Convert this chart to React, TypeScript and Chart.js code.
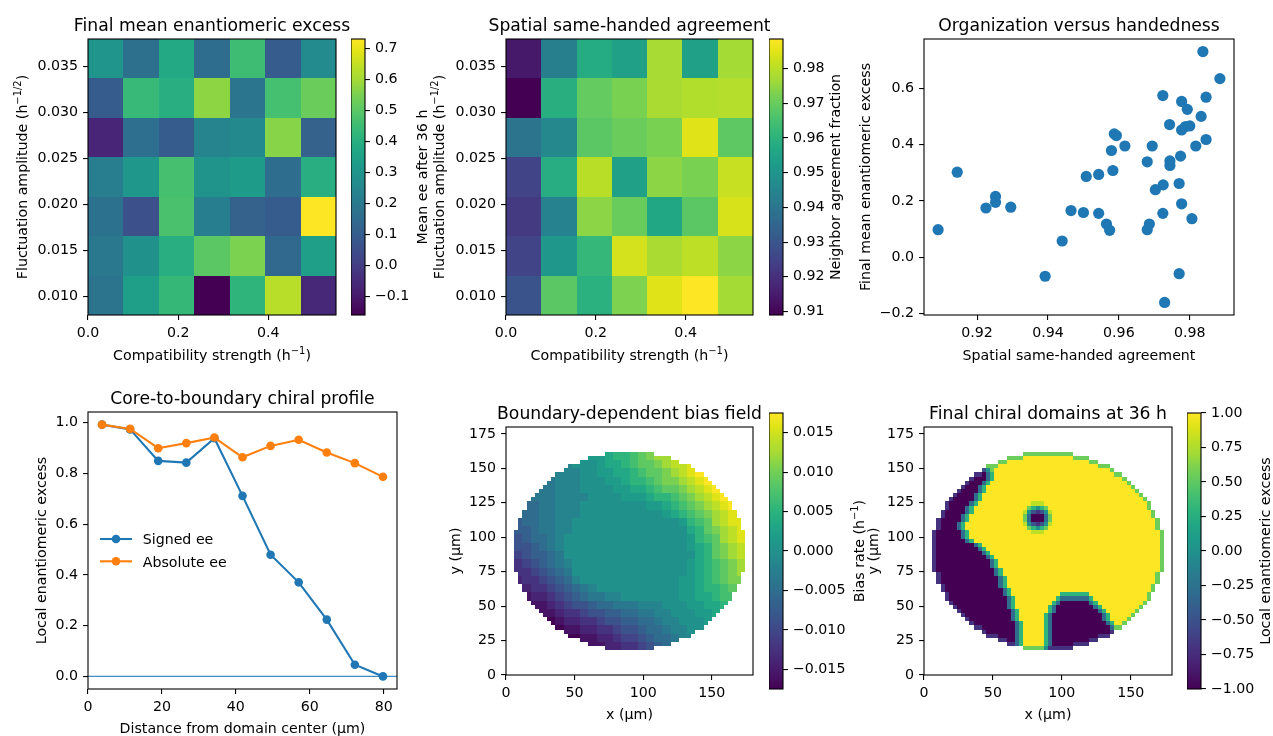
import React, { useEffect, useRef } from "react";
import { Chart, registerables } from "chart.js";

Chart.register(...registerables);

// ======================= DATA =======================
// Heatmap axes (cell centres)
const compatibilityStrength = [0.0393, 0.1179, 0.1964, 0.275, 0.3536, 0.4321, 0.5107];
const fluctuationAmplitude = [0.0359, 0.0316, 0.0273, 0.023, 0.0187, 0.0144, 0.0101]; // top row first

// Final mean enantiomeric excess (rows: top -> bottom)
const finalMeanEE = [
  [0.302, 0.166, 0.379, 0.156, 0.452, 0.096, 0.262],
  [0.098, 0.438, 0.395, 0.574, 0.19, 0.464, 0.525],
  [-0.067, 0.159, 0.098, 0.24, 0.257, 0.568, 0.118],
  [0.216, 0.308, 0.466, 0.294, 0.326, 0.156, 0.395],
  [0.175, 0.058, 0.471, 0.22, 0.118, 0.098, 0.73],
  [0.195, 0.287, 0.395, 0.5, 0.553, 0.137, 0.342],
  [0.178, 0.339, 0.432, -0.16, 0.418, 0.634, -0.058],
];

// Spatial same-handed agreement (rows: top -> bottom)
const neighborAgreement = [
  [0.9144, 0.943, 0.9579, 0.9543, 0.9774, 0.9545, 0.977],
  [0.909, 0.9587, 0.9694, 0.9724, 0.9777, 0.9788, 0.9793],
  [0.9392, 0.946, 0.968, 0.9703, 0.9725, 0.9846, 0.9686],
  [0.9252, 0.9583, 0.98, 0.9543, 0.9744, 0.9724, 0.9817],
  [0.9225, 0.944, 0.9743, 0.97, 0.9565, 0.968, 0.9837],
  [0.9252, 0.9508, 0.9617, 0.9832, 0.9777, 0.9806, 0.9744],
  [0.9295, 0.968, 0.9593, 0.9729, 0.9846, 0.9885, 0.977],
];

// Organization versus handedness scatter
const scatterAgreement = [0.909, 0.9144, 0.9225, 0.9252, 0.9252, 0.9295, 0.9392, 0.944, 0.9465, 0.95, 0.9508, 0.9543, 0.9543, 0.9565, 0.9574, 0.9579, 0.9583, 0.9587, 0.9593, 0.9617, 0.968, 0.968, 0.9686, 0.9694, 0.9703, 0.9724, 0.9725, 0.9724, 0.9729, 0.9743, 0.9744, 0.9744, 0.977, 0.977, 0.9774, 0.9777, 0.9777, 0.9777, 0.9788, 0.9793, 0.98, 0.9806, 0.9817, 0.9832, 0.9837, 0.9846, 0.9846, 0.9885];
const scatterMeanEE = [0.098, 0.302, 0.175, 0.216, 0.195, 0.178, -0.067, 0.058, 0.166, 0.159, 0.287, 0.294, 0.156, 0.118, 0.096, 0.379, 0.308, 0.438, 0.432, 0.395, 0.339, 0.098, 0.118, 0.395, 0.24, 0.574, 0.257, 0.156, -0.16, 0.471, 0.342, 0.326, 0.262, -0.058, 0.359, 0.19, 0.553, 0.452, 0.464, 0.525, 0.466, 0.137, 0.395, 0.5, 0.73, 0.568, 0.418, 0.634];

// Core-to-boundary profile
const profileDistance = [3.8, 11.4, 19.0, 26.6, 34.2, 41.8, 49.4, 57.0, 64.6, 72.2, 79.8];
const signedEE = [0.993, 0.974, 0.85, 0.843, 0.939, 0.712, 0.48, 0.371, 0.224, 0.046, 0.0];
const absoluteEE = [0.993, 0.976, 0.9, 0.92, 0.942, 0.864, 0.909, 0.933, 0.883, 0.841, 0.787];

// Final chiral domains, 60 x 60 cells (top row first), run-length tokens "char*count"
const domainRows = [
  ".*60", ".*60", ".*60", ".*60", ".*60", ".*60",
  ".*24 G*12 .*24",
  ".*20 G*4 Y*12 G*4 .*20",
  ".*18 G*2 Y*20 G*2 .*18",
  ".*15 G*3 Y*24 G*3 .*15",
  ".*14 B T G Y*28 G .*14",
  ".*12 b*2 P t g Y*29 G*2 .*12",
  ".*11 b P*3 t g Y*31 G .*11",
  ".*10 b P*3 t g Y*33 G .*10",
  ".*9 b P*3 t g Y*35 G .*9",
  ".*8 b P*4 t g Y*36 G .*8",
  ".*7 b P*4 t g Y*38 G .*7",
  ".*6 b P*5 t g Y*39 G .*6",
  ".*5 b P*5 t g Y*13 y*3 Y*25 G .*5",
  ".*5 b P*4 t g Y*13 G g T g G Y*24 G .*5",
  ".*4 b P*5 t g Y*12 y T B b B T y Y*24 G .*4",
  ".*4 b P*4 t g Y*13 G t P*3 t G Y*24 G .*4",
  ".*3 b P*5 t g Y*13 G t P*3 t G Y*25 G .*3",
  ".*3 b P*4 t g Y*14 y T B b B T y Y*25 G .*3",
  ".*3 b P*4 t g Y*15 G g T g G Y*26 G .*3",
  ".*2 b P*6 t g Y*15 y*3 Y*28 G .*2",
  ".*2 b P*6 t g Y*46 G .*2",
  ".*2 b P*7 t g Y*45 G .*2",
  ".*2 b P*9 t g Y*43 G .*2",
  ".*2 b P*10 t g Y*42 G .*2",
  ".*2 b P*11 t g Y*41 G .*2",
  ".*2 b P*12 t g Y*40 G .*2",
  ".*2 b P*13 t g Y*39 G .*2",
  ".*2 b P*13 t g Y*39 G .*2",
  ".*2 b P*14 t g Y*38 G .*2",
  ".*3 b P*13 t g Y*37 G .*3",
  ".*3 b P*14 t g Y*36 G .*3",
  ".*3 b P*14 t g Y*36 G .*3",
  ".*4 b P*13 t g Y*35 G .*4",
  ".*4 b P*14 t g Y*34 G .*4",
  ".*5 b P*13 t g Y*12 g*7 Y*14 G .*5",
  ".*5 b P*14 t g Y*10 g t*7 g Y*13 G .*5",
  ".*6 b P*13 t g Y*9 g t P*7 t g Y*11 G .*6",
  ".*7 b P*12 t g Y*8 g t P*9 t g Y*9 G .*7",
  ".*8 b P*12 t g Y*7 g t P*10 t g Y*7 G .*8",
  ".*9 b P*11 t g Y*6 g t P*12 t g Y*5 G .*9",
  ".*10 b P*10 t g Y*6 g t P*12 t g Y*4 G .*10",
  ".*11 b P*10 t g Y*5 g t P*13 t g Y*2 G .*11",
  ".*12 b*2 P*8 t g Y*5 g t P*14 t G*2 .*12",
  ".*14 b P*7 t g Y*5 g t P*14 b .*14",
  ".*15 b*3 P*4 t g Y*5 g t P*11 b*3 .*15",
  ".*18 b*2 P*2 t g Y*5 g t P*9 b*2 .*18",
  ".*20 b*2 t g Y*5 g t P*5 b*4 .*20",
  ".*24 G*5 T b*6 .*24",
  ".*60", ".*60", ".*60", ".*60", ".*60", ".*60",
];
const domainLevel: Record<string, number> = { Y: 1, y: 0.8, G: 0.55, g: 0.3, T: 0, t: -0.3, B: -0.5, b: -0.7, P: -1 };

// Boundary-dependent bias field, 30 x 30 samples (top row first), level chars
const biasRows = [
  ".*30", ".*30", ".*30",
  ".*10 B B C D D E F G H H .*10",
  ".*7 9 A A A B C C D E F F G H I I J .*7",
  ".*6 9 9 9 A A B B C C D E F F G H I J K .*6",
  ".*5 8 9 9 9 A A A B B C D D E F G G H I J K .*5",
  ".*4 8 8 9 9 9 A*4 B B C C D E F F G H I J K .*4",
  ".*3 8 8 8 9 9 9 9 A*4 B B B C D D E F G H I J K .*3",
  ".*2 7 7 8 8 9 9 9 A*8 B B C D E F G H I J K .*2",
  ".*2 7 7 8 8 9 9 9 A*10 B C D E F G H I J .*2",
  ".*1 6 7 7 8 8 9 9 A*13 B D E F H I J J .*1",
  ".*1 6 6 7 8 8 9 9 A*14 C D F G H I J .*1",
  ".*1 5 6 7 7 8 9 A*15 B D E F H I J .*1",
  ".*1 5 5 6 7 8 9 A*15 B C D F G H I .*1",
  ".*1 4 5 6 6 7 8 A*16 C D F G H I .*1",
  ".*1 3 4 5 6 7 8 9 A*14 B C D E F G H .*1",
  ".*1 3 3 4 5 6 7 8 A*14 B C D E F G H .*1",
  ".*1 2 3 3 4 5 6 7 9 A*12 B B C D E F G G .*1",
  ".*2 2 3 3 4 5 6 7 8 9 A*10 B B C D D E F .*2",
  ".*2 1 2 2 3 4 5 6 7 8 8 9 9 A*7 B B C C D E E .*2",
  ".*3 1 1 2 3 4 5 5 6 7 7 8 8 8 9 9 9 A A A B B C C D .*3",
  ".*4 1 1 2 3 3 4 5 5 6 6 7 7 8 8 9 9 A A A B B C .*4",
  ".*5 0 1 2 2 3 3 4 5 5 6 6 7 7 8 9 9 A A A B .*5",
  ".*6 0 1 1 2 2 3 3 4 5 5 6 7 7 8 9 9 A A .*6",
  ".*7 0 0 1 1 2 2 3 4 4 5 6 7 7 8 9 9 .*7",
  ".*10 1 1 2 2 3 3 4 5 6 7 .*10",
  ".*30", ".*30", ".*30",
];
const biasLevelChars = "0123456789ABCDEFGHIJK";
const biasLevelStep = 0.00175; // 'A' is zero
const imageExtent = 180;

// Tick values
const heatXTicks = [0, 0.2, 0.4];
const heatYTicks = [0.01, 0.015, 0.02, 0.025, 0.03, 0.035];
const eeBarTicks = [-0.1, 0, 0.1, 0.2, 0.3, 0.4, 0.5, 0.6, 0.7];
const agreementBarTicks = [0.91, 0.92, 0.93, 0.94, 0.95, 0.96, 0.97, 0.98];
const scatterXTicks = [0.92, 0.94, 0.96, 0.98];
const scatterYTicks = [-0.2, 0, 0.2, 0.4, 0.6];
const profileXTicks = [0, 20, 40, 60, 80];
const profileYTicks = [0, 0.2, 0.4, 0.6, 0.8, 1.0];
const imageXTicks = [0, 50, 100, 150];
const imageYTicks = [0, 25, 50, 75, 100, 125, 150, 175];
const biasBarTicks = [-0.015, -0.01, -0.005, 0, 0.005, 0.01, 0.015];
const domainBarTicks = [-1, -0.75, -0.5, -0.25, 0, 0.25, 0.5, 0.75, 1];

// ======================= STYLE / HELPERS =======================
const FONT = '"DejaVu Sans", "Liberation Sans", sans-serif';
const FS = 14.2;
const TFS = 17.2;
const TICK = 4.9;
const LW = 1.1;
const C0 = "#1f77b4";
const C1 = "#ff7f0e";
const HALF_PI = Math.PI / 2;

const VIR = ["#440154", "#471365", "#482475", "#46337f", "#414487", "#3b528b", "#355f8d", "#2f6c8e", "#2a788e", "#25848e", "#21918c", "#1e9c89", "#22a884", "#2fb47c", "#44bf70", "#5ec962", "#7ad151", "#a2da37", "#bddf26", "#dfe318", "#fde725"];
const VIR_RGB = VIR.map((h) => [1, 3, 5].map((k) => parseInt(h.slice(k, k + 2), 16)));
function viridis(t: number) {
  const n = VIR_RGB.length - 1;
  const tt = Math.max(0, Math.min(1, t)) * n;
  const i = Math.min(n - 1, Math.floor(tt));
  const u = tt - i;
  const a = VIR_RGB[i];
  const b = VIR_RGB[i + 1];
  const c = [0, 1, 2].map((k) => Math.round(a[k] + (b[k] - a[k]) * u));
  return `rgb(${c[0]},${c[1]},${c[2]})`;
}

function fmt(v: number, d: number) {
  const s = Math.abs(v).toFixed(d);
  return (v < -1e-12 ? "\u2212" : "") + s;
}

function decode(rows: string[]): string[][] {
  return rows.map((r) => {
    const out: string[] = [];
    r.split(" ").forEach((tok) => {
      if (!tok) return;
      const [ch, cnt] = tok.split("*");
      const n = cnt ? parseInt(cnt, 10) : 1;
      for (let k = 0; k < n; k++) out.push(ch);
    });
    return out;
  });
}

type Part = { t: string; sup?: boolean };
type Txt = { parts: Part[]; x: number; y: number; rot?: number; size?: number; align?: "center" | "left" };
type Box = { l: number; t: number; r: number; b: number };
type Pad = { l: number; t: number; r: number; b: number };
type Frame = { x: number; y: number; w: number; h: number };

const P = (s: string): Part[] => [{ t: s }];
const withSup = (a: string, s: string, b: string): Part[] => [{ t: a }, { t: s, sup: true }, { t: b }];

function drawText(ctx: CanvasRenderingContext2D, l: Txt, ox: number, oy: number) {
  const size = l.size || FS;
  const sup = size * 0.7;
  ctx.save();
  ctx.translate(l.x - ox, l.y - oy);
  if (l.rot) ctx.rotate(l.rot);
  ctx.fillStyle = "#000";
  ctx.textBaseline = "alphabetic";
  ctx.textAlign = "left";
  const ws = l.parts.map((p) => {
    ctx.font = `${p.sup ? sup : size}px ${FONT}`;
    return ctx.measureText(p.t).width;
  });
  const total = ws.reduce((s, w) => s + w, 0);
  let x = l.align === "left" ? 0 : -total / 2;
  l.parts.forEach((p, i) => {
    ctx.font = `${p.sup ? sup : size}px ${FONT}`;
    ctx.fillText(p.t, x, p.sup ? -size * 0.42 : 0);
    x += ws[i];
  });
  ctx.restore();
}

function frameOf(box: Box, pad: Pad): Frame {
  return { x: box.l - pad.l, y: box.t - pad.t, w: box.r - box.l + pad.l + pad.r, h: box.b - box.t + pad.t + pad.b };
}

function axis(pos: string, min: number, max: number, ticks: number[], dec: number, size: number) {
  return {
    type: "linear",
    position: pos,
    min,
    max,
    afterBuildTicks: (s: any) => {
      s.ticks = ticks.map((v) => ({ value: v }));
    },
    afterFit: (s: any) => {
      if (pos === "bottom") s.height = size;
      else s.width = size;
    },
    border: { display: false },
    grid: { display: true, drawOnChartArea: false, drawTicks: true, tickLength: TICK, tickColor: "#000", tickWidth: LW, color: "#000", lineWidth: LW },
    ticks: {
      autoSkip: false,
      maxRotation: 0,
      minRotation: 0,
      padding: 5,
      color: "#000",
      font: { family: FONT, size: FS },
      callback: (v: any) => fmt(Number(v), dec),
    },
  };
}

function baseOptions(padding: any) {
  return {
    responsive: false,
    animation: false,
    devicePixelRatio: 1,
    events: [],
    layout: { padding },
    plugins: { legend: { display: false }, tooltip: { enabled: false }, title: { display: false } },
  };
}

type Panel = { frame: Frame; config: any };

function mainPanel(opts: {
  box: Box;
  pad: Pad;
  datasets: any[];
  x: [number, number, number[], number];
  y: [number, number, number[], number];
  under?: (chart: any) => void;
  over?: (chart: any, frame: Frame) => void;
  labels: Txt[];
}): Panel {
  const { box, pad } = opts;
  const frame = frameOf(box, pad);
  const plugin = {
    id: "decor",
    beforeDatasetsDraw(chart: any) {
      if (!opts.under) return;
      const { ctx, chartArea: a } = chart;
      ctx.save();
      ctx.beginPath();
      ctx.rect(a.left, a.top, a.right - a.left, a.bottom - a.top);
      ctx.clip();
      opts.under(chart);
      ctx.restore();
    },
    afterDraw(chart: any) {
      const { ctx, chartArea: a } = chart;
      if (opts.over) opts.over(chart, frame);
      ctx.save();
      ctx.strokeStyle = "#000";
      ctx.lineWidth = LW;
      ctx.strokeRect(a.left, a.top, a.right - a.left, a.bottom - a.top);
      ctx.restore();
      opts.labels.forEach((l) => drawText(ctx, l, frame.x, frame.y));
    },
  };
  const config = {
    type: "scatter",
    data: { datasets: opts.datasets },
    options: {
      ...baseOptions({ left: 0, top: pad.t, right: pad.r, bottom: 0 }),
      scales: {
        x: axis("bottom", opts.x[0], opts.x[1], opts.x[2], opts.x[3], pad.b),
        y: axis("left", opts.y[0], opts.y[1], opts.y[2], opts.y[3], pad.l),
      },
    },
    plugins: [plugin],
  };
  return { frame, config };
}

function colorbarPanel(box: Box, vmin: number, vmax: number, ticks: number[], dec: number, label: Txt): Panel {
  const pad = { l: 0, t: 20, r: 88, b: 20 };
  const frame = frameOf(box, pad);
  const plugin = {
    id: "cbar",
    beforeDatasetsDraw(chart: any) {
      const { ctx, chartArea: a } = chart;
      const ys = chart.scales.y;
      for (let py = Math.floor(a.top); py < Math.ceil(a.bottom); py++) {
        const v = ys.getValueForPixel(py + 0.5);
        ctx.fillStyle = viridis((v - vmin) / (vmax - vmin));
        ctx.fillRect(a.left, py, a.right - a.left, 1);
      }
    },
    afterDraw(chart: any) {
      const { ctx, chartArea: a } = chart;
      ctx.save();
      ctx.strokeStyle = "#000";
      ctx.lineWidth = LW;
      ctx.strokeRect(a.left, a.top, a.right - a.left, a.bottom - a.top);
      ctx.restore();
      drawText(ctx, label, frame.x, frame.y);
    },
  };
  const config = {
    type: "scatter",
    data: { datasets: [{ data: [] }] },
    options: {
      ...baseOptions({ left: 0, top: pad.t, right: 0, bottom: pad.b }),
      scales: {
        x: { type: "linear", display: false, min: 0, max: 1 },
        y: axis("right", vmin, vmax, ticks, dec, pad.r),
      },
    },
    plugins: [plugin],
  };
  return { frame, config };
}

function heatUnder(grid: number[][], xs: number[], ys: number[], vmin: number, vmax: number) {
  return (chart: any) => {
    const { ctx } = chart;
    const sx = chart.scales.x;
    const sy = chart.scales.y;
    const hx = Math.abs(xs[1] - xs[0]) / 2;
    const hy = Math.abs(ys[0] - ys[1]) / 2;
    grid.forEach((row, r) =>
      row.forEach((v, c) => {
        const x0 = Math.round(sx.getPixelForValue(xs[c] - hx));
        const x1 = Math.round(sx.getPixelForValue(xs[c] + hx));
        const y0 = Math.round(sy.getPixelForValue(ys[r] + hy));
        const y1 = Math.round(sy.getPixelForValue(ys[r] - hy));
        ctx.fillStyle = viridis((v - vmin) / (vmax - vmin));
        ctx.fillRect(x0, y0, x1 - x0, y1 - y0);
      })
    );
  };
}

function imageUnder(cells: (number | null)[][], vmin: number, vmax: number) {
  return (chart: any) => {
    const { ctx } = chart;
    const sx = chart.scales.x;
    const sy = chart.scales.y;
    const n = cells.length;
    const m = cells[0].length;
    const dx = imageExtent / m;
    const dy = imageExtent / n;
    cells.forEach((row, k) =>
      row.forEach((v, i) => {
        if (v === null || v === undefined) return;
        const yTop = imageExtent - k * dy;
        const x0 = Math.round(sx.getPixelForValue(i * dx));
        const x1 = Math.round(sx.getPixelForValue((i + 1) * dx));
        const y0 = Math.round(sy.getPixelForValue(yTop));
        const y1 = Math.round(sy.getPixelForValue(yTop - dy));
        ctx.fillStyle = viridis((v - vmin) / (vmax - vmin));
        ctx.fillRect(x0, y0, x1 - x0, y1 - y0);
      })
    );
  };
}

function limits(vals: number[], margin = 0.05): [number, number] {
  const lo = Math.min(...vals);
  const hi = Math.max(...vals);
  const m = (hi - lo) * margin;
  return [lo - m, hi + m];
}

// ======================= LAYOUT =======================
function buildPanels(): Panel[] {
  const panels: Panel[] = [];
  const mainPad = { l: 90, t: 40, r: 20, b: 60 };

  // ----- heatmap 1 -----
  const eeFlat = finalMeanEE.flat();
  const eeMin = Math.min(...eeFlat);
  const eeMax = Math.max(...eeFlat);
  panels.push(
    mainPanel({
      box: { l: 88, t: 39, r: 336, b: 315 },
      pad: mainPad,
      datasets: [{ data: [] }],
      x: [0, 0.55, heatXTicks, 1],
      y: [0.008, 0.038, heatYTicks, 3],
      under: heatUnder(finalMeanEE, compatibilityStrength, fluctuationAmplitude, eeMin, eeMax),
      labels: [
        { parts: P("Final mean enantiomeric excess"), x: 212, y: 31, size: TFS },
        { parts: withSup("Compatibility strength (h", "\u22121", ")"), x: 212, y: 359.5 },
        { parts: withSup("Fluctuation amplitude (h", "\u22121/2", ")"), x: 27, y: 177, rot: -HALF_PI },
      ],
    })
  );
  panels.push(
    colorbarPanel({ l: 351, t: 39, r: 365, b: 315 }, eeMin, eeMax, eeBarTicks, 1, {
      parts: P("Mean ee after 36 h"),
      x: 427,
      y: 177,
      rot: -HALF_PI,
    })
  );

  // ----- heatmap 2 -----
  const agFlat = neighborAgreement.flat();
  const agMin = Math.min(...agFlat);
  const agMax = Math.max(...agFlat);
  panels.push(
    mainPanel({
      box: { l: 506, t: 39, r: 753, b: 315 },
      pad: mainPad,
      datasets: [{ data: [] }],
      x: [0, 0.55, heatXTicks, 1],
      y: [0.008, 0.038, heatYTicks, 3],
      under: heatUnder(neighborAgreement, compatibilityStrength, fluctuationAmplitude, agMin, agMax),
      labels: [
        { parts: P("Spatial same-handed agreement"), x: 629.5, y: 31, size: TFS },
        { parts: withSup("Compatibility strength (h", "\u22121", ")"), x: 629.5, y: 359.5 },
        { parts: withSup("Fluctuation amplitude (h", "\u22121/2", ")"), x: 444, y: 177, rot: -HALF_PI },
      ],
    })
  );
  panels.push(
    colorbarPanel({ l: 769, t: 39, r: 783, b: 315 }, agMin, agMax, agreementBarTicks, 2, {
      parts: P("Neighbor agreement fraction"),
      x: 840,
      y: 177,
      rot: -HALF_PI,
    })
  );

  // ----- scatter -----
  const sx = limits(scatterAgreement);
  const sy = limits(scatterMeanEE);
  panels.push(
    mainPanel({
      box: { l: 924, t: 39, r: 1234, b: 315 },
      pad: mainPad,
      datasets: [
        {
          data: scatterAgreement.map((x, i) => ({ x, y: scatterMeanEE[i] })),
          pointRadius: 5.6,
          pointBackgroundColor: C0,
          pointBorderWidth: 0,
          pointHoverRadius: 5.6,
        },
      ],
      x: [sx[0], sx[1], scatterXTicks, 2],
      y: [sy[0], sy[1], scatterYTicks, 1],
      labels: [
        { parts: P("Organization versus handedness"), x: 1079, y: 31, size: TFS },
        { parts: P("Spatial same-handed agreement"), x: 1079, y: 359.5 },
        { parts: P("Final mean enantiomeric excess"), x: 870, y: 177, rot: -HALF_PI },
      ],
    })
  );

  // ----- profile line chart -----
  const px = limits(profileDistance);
  const py = limits([...signedEE, ...absoluteEE]);
  const legendItems = [
    { label: "Signed ee", color: C0, y: 539 },
    { label: "Absolute ee", color: C1, y: 561.3 },
  ];
  panels.push(
    mainPanel({
      box: { l: 88, t: 412, r: 397, b: 689 },
      pad: mainPad,
      datasets: [
        {
          label: "Signed ee",
          data: profileDistance.map((x, i) => ({ x, y: signedEE[i] })),
          showLine: true,
          borderColor: C0,
          backgroundColor: C0,
          borderWidth: 2.1,
          pointRadius: 4.3,
          pointBackgroundColor: C0,
          pointBorderWidth: 0,
          order: 1,
        },
        {
          label: "Absolute ee",
          data: profileDistance.map((x, i) => ({ x, y: absoluteEE[i] })),
          showLine: true,
          borderColor: C1,
          backgroundColor: C1,
          borderWidth: 2.1,
          pointRadius: 4.3,
          pointBackgroundColor: C1,
          pointBorderWidth: 0,
          order: 0,
        },
      ],
      x: [px[0], px[1], profileXTicks, 0],
      y: [py[0], py[1], profileYTicks, 1],
      over: (chart: any, frame: Frame) => {
        const { ctx, chartArea: a } = chart;
        const y0 = chart.scales.y.getPixelForValue(0);
        ctx.save();
        ctx.strokeStyle = "rgba(31,119,180,0.85)";
        ctx.lineWidth = 1.3;
        ctx.beginPath();
        ctx.moveTo(a.left, y0);
        ctx.lineTo(a.right, y0);
        ctx.stroke();
        legendItems.forEach((it) => {
          const yy = it.y - frame.y;
          ctx.strokeStyle = it.color;
          ctx.lineWidth = 2.1;
          ctx.beginPath();
          ctx.moveTo(100 - frame.x, yy);
          ctx.lineTo(132 - frame.x, yy);
          ctx.stroke();
          ctx.fillStyle = it.color;
          ctx.beginPath();
          ctx.arc(116 - frame.x, yy, 4.3, 0, Math.PI * 2);
          ctx.fill();
        });
        ctx.restore();
        legendItems.forEach((it) => drawText(ctx, { parts: P(it.label), x: 142.7, y: it.y + 5.2, align: "left" }, frame.x, frame.y));
      },
      labels: [
        { parts: P("Core-to-boundary chiral profile"), x: 242.5, y: 404, size: TFS },
        { parts: P("Distance from domain center (\u00b5m)"), x: 242.5, y: 733 },
        { parts: P("Local enantiomeric excess"), x: 46, y: 550.5, rot: -HALF_PI },
      ],
    })
  );

  // ----- images -----
  const domainChars = decode(domainRows);
  const biasChars = decode(biasRows);
  const domainCells = domainChars.map((row) => row.map((ch) => (ch === "." ? null : domainLevel[ch])));
  const biasCells = domainChars.map((row, k) =>
    row.map((ch, i) => {
      if (ch === ".") return null;
      const b = (biasChars[Math.floor(k / 2)] || [])[Math.floor(i / 2)];
      if (!b || b === ".") return null;
      return (biasLevelChars.indexOf(b) - 10) * biasLevelStep;
    })
  );
  const biasVals = biasCells.flat().filter((v) => v !== null) as number[];
  const bMin = Math.min(...biasVals);
  const bMax = Math.max(...biasVals);
  const dVals = domainCells.flat().filter((v) => v !== null) as number[];
  const dMin = Math.min(...dVals);
  const dMax = Math.max(...dVals);

  panels.push(
    mainPanel({
      box: { l: 506, t: 427, r: 753, b: 675 },
      pad: mainPad,
      datasets: [{ data: [] }],
      x: [0, imageExtent, imageXTicks, 0],
      y: [0, imageExtent, imageYTicks, 0],
      under: imageUnder(biasCells, bMin, bMax),
      labels: [
        { parts: P("Boundary-dependent bias field"), x: 629.5, y: 418.7, size: TFS },
        { parts: P("x (\u00b5m)"), x: 629.5, y: 719 },
        { parts: P("y (\u00b5m)"), x: 459.6, y: 551, rot: -HALF_PI },
      ],
    })
  );
  panels.push(
    colorbarPanel({ l: 769, t: 413, r: 783, b: 689 }, bMin, bMax, biasBarTicks, 3, {
      parts: withSup("Bias rate (h", "\u22121", ")"),
      x: 864,
      y: 551,
      rot: -HALF_PI,
    })
  );

  panels.push(
    mainPanel({
      box: { l: 924, t: 427, r: 1172, b: 675 },
      pad: mainPad,
      datasets: [{ data: [] }],
      x: [0, imageExtent, imageXTicks, 0],
      y: [0, imageExtent, imageYTicks, 0],
      under: imageUnder(domainCells, dMin, dMax),
      labels: [
        { parts: P("Final chiral domains at 36 h"), x: 1048, y: 418.7, size: TFS },
        { parts: P("x (\u00b5m)"), x: 1048, y: 719 },
        { parts: P("y (\u00b5m)"), x: 877.6, y: 551, rot: -HALF_PI },
      ],
    })
  );
  panels.push(
    colorbarPanel({ l: 1187, t: 413, r: 1201, b: 689 }, dMin, dMax, domainBarTicks, 2, {
      parts: P("Local enantiomeric excess"),
      x: 1270,
      y: 551,
      rot: -HALF_PI,
    })
  );

  return panels;
}

const PANELS = buildPanels();

export default function App() {
  const refs = useRef<(HTMLCanvasElement | null)[]>([]);

  useEffect(() => {
    Chart.defaults.font.family = FONT;
    const charts: Chart[] = [];
    PANELS.forEach((p, i) => {
      const c = refs.current[i];
      if (c) charts.push(new Chart(c, p.config));
    });
    return () => charts.forEach((c) => c.destroy());
  }, []);

  return (
    <div style={{ position: "fixed", left: 0, top: 0, width: 1273, height: 736, background: "#fff", overflow: "hidden" }}>
      {PANELS.map((p, i) => (
        <canvas
          key={i}
          ref={(el) => {
            refs.current[i] = el;
          }}
          width={p.frame.w}
          height={p.frame.h}
          style={{ position: "absolute", left: p.frame.x, top: p.frame.y, width: p.frame.w, height: p.frame.h }}
        />
      ))}
    </div>
  );
}
